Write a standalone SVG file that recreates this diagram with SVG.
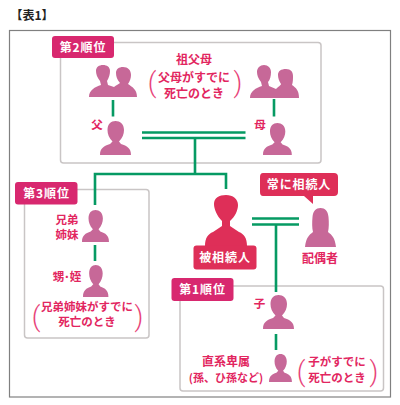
<svg xmlns="http://www.w3.org/2000/svg" width="400" height="405" viewBox="0 0 400 405">
<style>
text{font-family:"Noto Sans CJK JP","Noto Sans",sans-serif;font-weight:700;text-anchor:middle}
.l{fill:#e2265f;font-size:12px}
.s{fill:#e2265f;font-size:11.500px}
.b{fill:#fff;font-size:12px;letter-spacing:.9px}
.p{fill:#e8447a;font-size:27px;font-weight:300;font-family:Roboto,sans-serif}
.box{fill:#fff;stroke:#c9c5c5;stroke-width:1.500}
.tag{fill:#d8286f}
.red{fill:#de2f58}
.g{fill:none;stroke:#069a63;stroke-width:2.600}
.m{fill:#c76898}
</style>
<defs>
<path id="man" d="M0 34C0 27 4 25 10 23L12.500 20.500C9 17 7.500 13 7.500 9C7.500 3 11 0 15.500 0C20 0 24 3 24 9C24 13 22.500 17 19 20.500L21 23C27 25 31 27 31 34Z"/>
</defs>
<rect width="400" height="405" fill="#fff"/>
<text x="32" y="20" style="font-size:12px;fill:#222">【表1】</text>
<rect x="9.500" y="30.500" width="381" height="366.500" fill="#fff" stroke="#808080" stroke-width="1.200"/>
<rect class="box" x="60.500" y="42.500" width="260.500" height="120.500" rx="3"/>
<rect class="box" x="24.500" y="189.500" width="124.500" height="148.500" rx="3"/>
<rect class="box" x="180" y="286" width="203.500" height="105" rx="3"/>
<g id="connectors">
<path class="g" d="M113 100V116.500M274 99V116.500M142 132.500H245.500M142 138H245.500M195 138V174M95 205V174H226V189M95 245V261M252 218.500H299M252 224.500H299M276 224.500V292M276 334V350"/>
</g>
<g id="n-rank2"><rect class="tag" x="52" y="36" width="62" height="22" rx="3"/><text class="b" x="83" y="51.500">第2順位</text></g>
<g id="n-rank3"><rect class="tag" x="15" y="182" width="62.500" height="22.500" rx="3"/><text class="b" x="46.500" y="197.500">第3順位</text></g>
<g id="n-rank1"><rect class="tag" x="171.500" y="278" width="62" height="23" rx="3"/><text class="b" x="202.500" y="294">第1順位</text></g>
<g id="n-grand">
<text class="l" x="194" y="64">祖父母</text>
<text class="l" x="194" y="82">父母がすでに</text>
<text class="l" x="194" y="98">死亡のとき</text>
<text class="p" x="152" y="92">(</text><text class="p" x="238" y="92">)</text>
</g>
<g id="n-grandL" class="m">
<path d="M89 97C89 90 95 87 101 85L100 81C97 77 96 74 96 71C96 67 99 65 103 65C107 65 110 67 110 71C110 74 109 78 107 81L108 85L114 87C116 85 119 84 120 83C117 80 116 76 116 73C116 69 119 67 123 67C128 67 131 70 131 75C131 78 130 81 128 84C132 87 137 89 137 97Z"/>
</g>
<g id="n-grandR" class="m">
<path d="M250 98C250 91 256 88 262 86L261 82C258 78 257 75 257 72C257 68 260 65 264 65C268 65 271 68 271 72C271 76 270 80 268 82L269 86L276 89C278 87 281 85 281 84C279 81 278 78 278 75C278 71 281 69 286 69C291 69 293 72 293 76C293 79 293 82 292 85C296 88 299 90 299 98Z"/>
</g>
<g id="n-father"><text class="s" x="97" y="129">父</text><use href="#man" class="m" transform="translate(100 121)"/></g>
<g id="n-mother"><text class="s" x="260" y="129">母</text><use href="#man" class="m" transform="translate(263 123) scale(.93 .94)"/></g>
<g id="n-sibling"><text class="s" x="67" y="224">兄弟</text><text class="s" x="67" y="239">姉妹</text><use href="#man" class="m" transform="translate(82 210) scale(.87 .94)"/></g>
<g id="n-nephew"><text class="s" x="67" y="281">甥･姪</text><use href="#man" class="m" transform="translate(83 265) scale(.82 .94)"/></g>
<text class="s" x="87" y="310.500">兄弟姉妹がすでに</text>
<text class="s" x="87" y="326">死亡のとき</text>
<text class="p" x="36" y="326">(</text><text class="p" x="139" y="326">)</text>
<g id="n-deceased"><path class="red" d="M205 246C205 238 208 234 213 232L222 226V221C217 216 214 209 214 204C214 198 219 195 226 195C233 195 238 199 238 205C238 210 235 217 230 221V226L239 232C244 234 247 238 247 246Z"/>
<rect class="red" x="193.500" y="245.500" width="63" height="24" rx="3"/><text class="b" x="225" y="262">被相続人</text></g>
<g id="n-always"><path class="red" d="M263 173H334Q338 173 338 177V192Q338 196 334 196H313L313 204L304 196H263Q260 196 260 192V177Q260 173 263 173Z"/><text class="b" x="299" y="189">常に相続人</text></g>
<g id="n-spouse"><path class="m" d="M305 247C306 238 309 235 313 232C312 228 312 222 312.500 217C313 211 316 208 320.500 208C325 208 328 211 328.500 217C329 222 329 228 328 232C332 235 335 238 336 247Z"/><text class="l" x="320" y="263">配偶者</text></g>
<g id="n-child"><text class="s" x="259.500" y="308">子</text><use href="#man" class="m" transform="translate(263 295)"/></g>
<g id="n-desc"><text class="l" x="226" y="365.500">直系卑属</text><text class="l" x="226" y="381.500" style="font-size:11px">(孫、ひ孫など)</text><use href="#man" class="m" transform="translate(269 354) scale(.74 .82)"/></g>
<text class="s" x="337" y="366">子がすでに</text><text class="s" x="337" y="381.500">死亡のとき</text>
<text class="p" x="301" y="381">(</text><text class="p" x="374" y="381">)</text>
</svg>
